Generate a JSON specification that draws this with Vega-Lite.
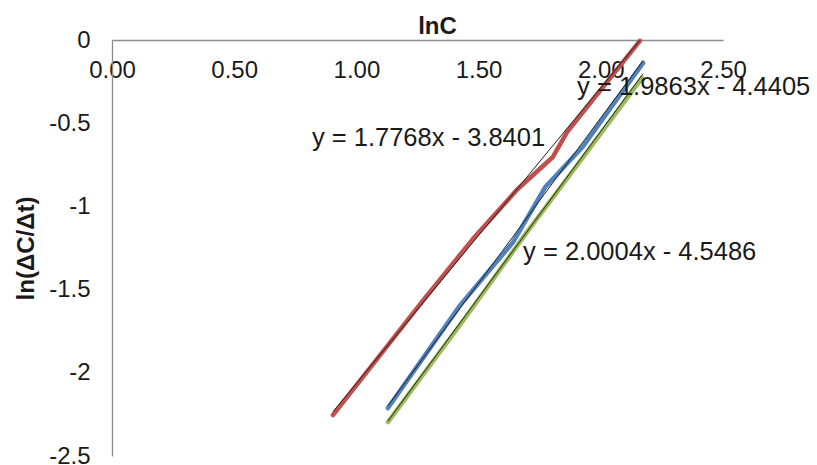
{
  "$schema": "https://vega.github.io/schema/vega-lite/v6.json",
  "autosize": "none",
  "width": 611,
  "height": 416,
  "padding": {"left": 112, "top": 40, "right": 94, "bottom": 9},
  "background": "white",
  "config": {
    "view": {"stroke": null},
    "font": "Liberation Sans",
    "axis": {"grid": false, "ticks": false, "domainColor": "#8c8c8c", "domainWidth": 1.3, "labelFont": "Liberation Sans", "labelFontSize": 24, "labelColor": "#1a1a1a", "titleFont": "Liberation Sans", "titleFontSize": 24, "titleFontWeight": "bold", "titleColor": "#1a1a1a"}
  },
  "datasets": {
    "series": [
      {"s": "A", "x": 0.904, "y": -2.254},
      {"s": "A", "x": 1.273, "y": -1.565},
      {"s": "A", "x": 1.477, "y": -1.195},
      {"s": "A", "x": 1.657, "y": -0.900},
      {"s": "A", "x": 1.804, "y": -0.703},
      {"s": "A", "x": 1.862, "y": -0.553},
      {"s": "A", "x": 2.160, "y": -0.005},
      {"s": "B", "x": 1.129, "y": -2.212},
      {"s": "B", "x": 1.424, "y": -1.595},
      {"s": "B", "x": 1.641, "y": -1.215},
      {"s": "B", "x": 1.772, "y": -0.885},
      {"s": "B", "x": 1.927, "y": -0.640},
      {"s": "B", "x": 2.173, "y": -0.138},
      {"s": "C", "x": 1.129, "y": -2.296},
      {"s": "C", "x": 1.450, "y": -1.660},
      {"s": "C", "x": 1.700, "y": -1.150},
      {"s": "C", "x": 1.930, "y": -0.700},
      {"s": "C", "x": 2.169, "y": -0.228}
    ],
    "trend": [
      {"s": "A", "x": 0.904, "y": -2.234},
      {"s": "A", "x": 2.160, "y": -0.002},
      {"s": "B", "x": 1.129, "y": -2.198},
      {"s": "B", "x": 2.173, "y": -0.124},
      {"s": "C", "x": 1.129, "y": -2.290},
      {"s": "C", "x": 2.173, "y": -0.202}
    ],
    "labels": [
      {"t": "y = 1.9863x - 4.4405", "x": 1.903, "y": -0.282},
      {"t": "y = 1.7768x - 3.8401", "x": 0.818, "y": -0.589},
      {"t": "y = 2.0004x - 4.5486", "x": 1.682, "y": -1.274}
    ]
  },
  "layer": [
    {
      "data": {"name": "series"},
      "mark": {"type": "line", "strokeWidth": 4.5, "strokeCap": "round", "strokeJoin": "round"},
      "encoding": {
        "x": {"field": "x", "type": "quantitative", "scale": {"domain": [0, 2.5], "nice": false, "zero": false},
          "axis": {"orient": "top", "title": "lnC", "values": [0, 0.5, 1, 1.5, 2, 2.5], "format": ".2f", "labelPadding": -37, "labelBaseline": "alphabetic", "labelFlush": false, "labelOverlap": false, "titleX": 325, "titleY": -7, "titleAlign": "center", "titleBaseline": "alphabetic"}},
        "y": {"field": "y", "type": "quantitative", "scale": {"domain": [-2.5, 0], "nice": false, "zero": false},
          "axis": {"title": "ln(ΔC/Δt)", "values": [0, -0.5, -1, -1.5, -2, -2.5], "labelExpr": "'' + datum.value", "labelPadding": 22, "labelFlush": false, "labelOverlap": false, "titlePadding": 10}},
        "color": {"field": "s", "type": "nominal", "legend": null, "scale": {"domain": ["A", "B", "C"], "range": ["#C0504D", "#4F81BD", "#9BBB59"]}}
      }
    },
    {
      "data": {"name": "trend"},
      "mark": {"type": "line", "strokeWidth": 1, "color": "#222222"},
      "encoding": {
        "x": {"field": "x", "type": "quantitative"},
        "y": {"field": "y", "type": "quantitative"},
        "detail": {"field": "s"}
      }
    },
    {
      "data": {"name": "labels"},
      "mark": {"type": "text", "align": "left", "baseline": "middle", "fontSize": 25.5, "color": "#1a1a1a", "font": "Liberation Sans"},
      "encoding": {
        "x": {"field": "x", "type": "quantitative"},
        "y": {"field": "y", "type": "quantitative"},
        "text": {"field": "t"}
      }
    }
  ]
}
